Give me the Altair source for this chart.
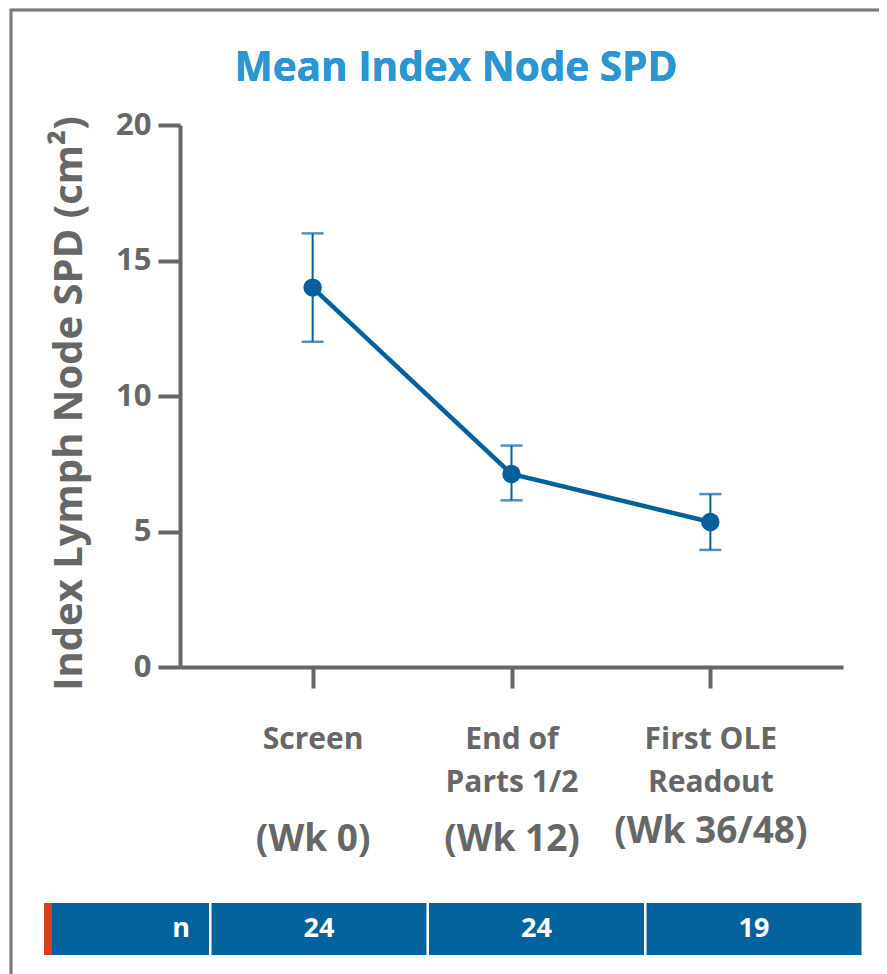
import altair as alt
import pandas as pd

# ---------------- data ----------------
chart_title = "Mean Index Node SPD"
timepoints = ["Screen", "End of\nParts 1/2", "First OLE\nReadout"]
week_labels = ["(Wk 0)", "(Wk 12)", "(Wk 36/48)"]
mean_spd = [14.0, 7.12, 5.35]
lower_ci = [12.0, 6.15, 4.32]
upper_ci = [16.0, 8.17, 6.38]
n_header = "n"
n_values = [24, 24, 19]
y_ticks = [0, 5, 10, 15, 20]

# ---------------- style / layout ----------------
W, H = 663, 542
FONT = "Open Sans"
GRAY = "#676767"
BLUE = "#05619C"
TITLE_BLUE = "#2B96D1"
TABLE_BLUE = "#02629C"
RED = "#D6401F"
PAD = 0.667

df = pd.DataFrame({"tp": timepoints, "week": week_labels, "mean": mean_spd,
                   "lo": lower_ci, "hi": upper_ci})
caps = pd.DataFrame({"tp": timepoints * 2, "v": lower_ci + upper_ci})

xscale = alt.Scale(type="point", padding=PAD)
yscale = alt.Scale(domain=[0, 20], nice=False)

x_main = alt.X("tp:N", sort=timepoints, scale=xscale, title=None,
               axis=alt.Axis(orient="bottom", labelAngle=0, labelExpr="split(datum.label, '\\n')",
                             labelFont=FONT, labelFontWeight="bold", labelFontSize=30,
                             labelColor=GRAY, labelLineHeight=43, labelBaseline="alphabetic",
                             labelPadding=60, labelLimit=0, labelOverlap=False,
                             tickSize=21, tickWidth=4, tickColor=GRAY,
                             domainColor=GRAY, domainWidth=4, grid=False))
y_main = alt.Y("mean:Q", scale=yscale,
               axis=alt.Axis(values=y_ticks, title="Index Lymph Node SPD (cm²)",
                             titleFont=FONT, titleFontWeight="bold", titleFontSize=40,
                             titleColor=GRAY, titleBaseline="alphabetic", titleAngle=270,
                             titleX=-99, titleY=278, titleAlign="center",
                             labelFont=FONT, labelFontWeight="bold", labelFontSize=31,
                             labelColor=GRAY, labelPadding=7, tickSize=22, tickWidth=4,
                             tickColor=GRAY, domainColor=GRAY, domainWidth=4, grid=False))

base = alt.Chart(df)
line = base.mark_line(color=BLUE, strokeWidth=4.5).encode(x=x_main, y=y_main)
rules = base.mark_rule(color=BLUE, strokeWidth=2).encode(
    x=alt.X("tp:N", sort=timepoints, scale=xscale), y=alt.Y("lo:Q", scale=yscale), y2="hi:Q")
capm = alt.Chart(caps).mark_tick(color=BLUE, thickness=2.5, size=22, orient="horizontal").encode(
    x=alt.X("tp:N", sort=timepoints, scale=xscale), y=alt.Y("v:Q", scale=yscale))
pts = base.mark_point(filled=True, color=BLUE, opacity=1, size=340).encode(
    x=alt.X("tp:N", sort=timepoints, scale=xscale), y=alt.Y("mean:Q", scale=yscale))
main = alt.layer(line, rules, capm, pts)

weeks = base.mark_point(opacity=0).encode(
    x=alt.X("week:N", sort=week_labels, scale=alt.Scale(type="point", padding=PAD), title=None,
            axis=alt.Axis(orient="bottom", labelAngle=0, domain=False, ticks=False, tickSize=0,
                          labelFont=FONT, labelFontWeight="bold", labelFontSize=37,
                          labelColor=GRAY,
                          labelBaseline={"condition": {"test": "datum.label == '(Wk 36/48)'",
                                                       "value": "bottom"},
                                         "value": "alphabetic"},
                          labelPadding=183, labelLimit=0, labelOverlap=False,
                          grid=False)))

# n table built from the data lists
HEADER_W, CELL_W, GAP, START, STRIPE = 157, 215, 2.5, -128, 8
rows = []
x = START
rows.append({"lab": n_header, "x0": x, "x1": x + HEADER_W, "tx": x + HEADER_W - 19, "kind": "h"})
x += HEADER_W + GAP
for v in n_values:
    rows.append({"lab": str(v), "x0": x, "x1": x + CELL_W, "tx": x + CELL_W / 2, "kind": "c"})
    x += CELL_W + GAP
tab = pd.DataFrame(rows)
stripe = pd.DataFrame({"x0": [START - STRIPE], "x1": [START]})
tx_scale = alt.Scale(domain=[0, W], range=[0, W], zero=False, nice=False)
ty_scale = alt.Scale(domain=[0, 1], range=[778, 830], nice=False, zero=False)

cells = alt.Chart(tab).mark_rect(color=TABLE_BLUE).encode(
    x=alt.X("x0:Q", scale=tx_scale, axis=None), x2="x1:Q",
    y=alt.Y("y0:Q", scale=ty_scale, axis=None), y2="y1:Q"
).transform_calculate(y0="0", y1="1")
stripe_m = alt.Chart(stripe).mark_rect(color=RED).encode(
    x=alt.X("x0:Q", scale=tx_scale, axis=None), x2="x1:Q",
    y=alt.Y("y0:Q", scale=ty_scale, axis=None), y2="y1:Q"
).transform_calculate(y0="0", y1="1")
hdr_text = alt.Chart(tab).transform_filter("datum.kind == 'h'").transform_calculate(
    ym="0.5").mark_text(color="white", font=FONT, fontWeight="bold", fontSize=27,
                        baseline="middle", align="right").encode(
    x=alt.X("tx:Q", scale=tx_scale, axis=None),
    y=alt.Y("ym:Q", scale=ty_scale, axis=None),
    text="lab:N")
num_text = alt.Chart(tab).transform_filter("datum.kind == 'c'").transform_calculate(
    ym="0.5").mark_text(color="white", font=FONT, fontWeight="bold", fontSize=27,
                        baseline="middle", align="center").encode(
    x=alt.X("tx:Q", scale=tx_scale, axis=None),
    y=alt.Y("ym:Q", scale=ty_scale, axis=None),
    text="lab:N")
table = alt.layer(cells, stripe_m, hdr_text, num_text)

frame = alt.Chart(df).mark_rect(fillOpacity=0, stroke="#7a7a7a", strokeWidth=2.5).encode(
    x=alt.value(-169), x2=alt.value(W + 200), y=alt.value(-115), y2=alt.value(H + 400))

title = alt.Chart(df).mark_text(font=FONT, fontWeight="bold", fontSize=40.5, color=TITLE_BLUE,
                                align="center", baseline="alphabetic").encode(
    x=alt.value(276), y=alt.value(-44), text=alt.value(chart_title))

chart = alt.layer(frame, title, main, weeks, table).resolve_scale(
    x="independent", y="independent").resolve_axis(x="independent", y="independent").properties(
    width=W, height=H,
    autosize=alt.AutoSizeParams(type="none"),
    padding={"left": 172, "top": 117, "right": 36, "bottom": 307},
).configure_view(stroke=None)

chart.save("out.html", embed_options={"renderer": "svg", "actions": False})
